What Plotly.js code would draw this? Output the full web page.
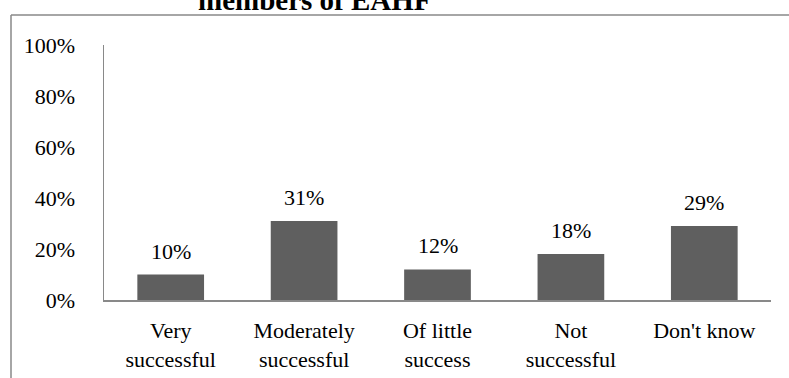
<!DOCTYPE html>
<html>
<head>
<meta charset="utf-8">
<script src="https://cdn.plot.ly/plotly-3.0.1.min.js"></script>
<style>
  html, body { margin: 0; padding: 0; background: #fff; }
  #chart { width: 789px; height: 378px; }
</style>
</head>
<body>
<div id="chart"></div>
<script>
const categories = ["Very<br>successful", "Moderately<br>successful", "Of little<br>success", "Not<br>successful", "Don't know"];
const values = [0.10, 0.31, 0.12, 0.18, 0.29];
const valueLabels = ["10%", "31%", "12%", "18%", "29%"];
const yTickVals = [0, 0.2, 0.4, 0.6, 0.8, 1.0];
const yTickText = ["0%", "20%", "40%", "60%", "80%", "100%"];
const titleText = "members of EAHF'";

const W = 789, H = 378;
const margin = {l: 104, r: 18, t: 45, b: 78};
const pw = W - margin.l - margin.r;
const ph = H - margin.t - margin.b;
const px = x => (x - margin.l) / pw;
const py = y => (H - margin.b - y) / ph;

const fontFam = "'Liberation Serif', 'Times New Roman', serif";

const trace = {
  type: 'bar',
  x: categories,
  y: values,
  marker: {color: '#5f5f5f', line: {width: 0}},
  hoverinfo: 'none'
};

const annotations = categories.map((c, i) => ({
  x: c, y: values[i], xref: 'x', yref: 'y',
  text: valueLabels[i], showarrow: false,
  yanchor: 'bottom', yshift: 9,
  font: {family: fontFam, size: 22, color: '#000'}
}));
annotations.push({
  x: px(319), y: py(18.5), xref: 'paper', yref: 'paper',
  text: '<b>' + titleText + '</b>', showarrow: false,
  xanchor: 'center', yanchor: 'bottom',
  font: {family: fontFam, size: 29, color: '#000'}
});

const layout = {
  width: W, height: H,
  margin: margin,
  paper_bgcolor: '#fff', plot_bgcolor: '#fff',
  showlegend: false,
  bargap: 0.5,
  font: {family: fontFam, size: 22, color: '#000'},
  xaxis: {
    showline: true, linecolor: '#898989', linewidth: 1.5,
    showgrid: false, zeroline: false, ticks: '',
    ticklabelstandoff: 10,
    tickfont: {family: fontFam, size: 22, color: '#000'},
    fixedrange: true
  },
  yaxis: {
    range: [0, 1.0],
    tickvals: yTickVals, ticktext: yTickText,
    showline: true, linecolor: '#898989', linewidth: 1.5,
    showgrid: false, zeroline: false, ticks: '',
    ticklabelstandoff: 23,
    tickfont: {family: fontFam, size: 22, color: '#000'},
    fixedrange: true
  },
  annotations: annotations,
  shapes: [
    {type: 'line', xref: 'paper', yref: 'paper', x0: px(11), x1: px(11), y0: py(H + 5), y1: py(15),
     line: {color: '#898989', width: 1.5}},
    {type: 'line', xref: 'paper', yref: 'paper', x0: px(11), x1: px(W + 5), y0: py(15), y1: py(15),
     line: {color: '#898989', width: 1.5}}
  ]
};

Plotly.newPlot('chart', [trace], layout, {displayModeBar: false, staticPlot: true});
</script>
</body>
</html>
